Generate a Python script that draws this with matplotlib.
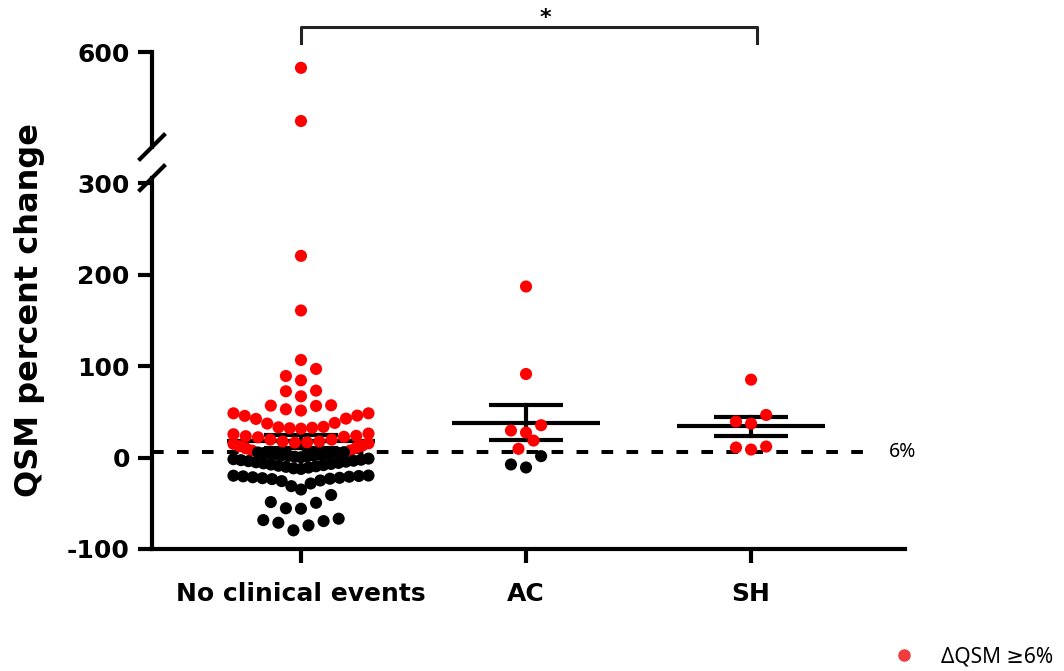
import numpy as np
import matplotlib
matplotlib.use("Agg")
import matplotlib.pyplot as plt
from matplotlib.lines import Line2D

plt.rcParams['font.family'] = ['DejaVu Sans']
plt.rcParams['axes.unicode_minus'] = False

# QSM percent change per patient
groups = ["No clinical events", "AC", "SH"]

no_events = [550, 382, 220.4, 160.7, 106.6, 96.8, 89.1, 84.4, 73.1, 72.4, 66.9,
             57.1, 56.7, 56.4, 52.7, 51.3,
             48.3, 48.3, 45.8, 45.5, 42.5, 42.2, 37.8, 37.1, 33.5, 33.0, 32.5, 32.0, 31.5,
             26.2, 25.4, 23.7, 23.3, 22.6, 22.1, 19.6, 19.6, 17.5, 17.5, 16.6, 16.3,
             15.5, 14.9, 13.1, 12.3, 10.6, 10.1, 7.6, 7.6,
             5.8, 5.5, 5.2, 4.9, 4.6, 4.3, 3.9, 3.6, 3.1, 2.8, 2.3, 1.9, 1.2, 0.8, 0.3,
             -1.2, -1.8, -2.4, -2.9, -3.5, -4.0, -4.6, -5.2, -5.9, -6.4, -7.0, -7.7,
             -8.3, -9.0, -9.6, -10.2, -11.0, -11.8, -12.5,
             -19.7, -19.9, -20.2, -20.6, -21.0, -21.6, -22.2, -22.6, -23.2, -23.6,
             -25.1, -25.8, -28.4, -31.3, -35.0,
             -41.0, -48.7, -49.5, -55.5, -56.0,
             -66.9, -68.4, -69.5, -71.3, -74.2, -79.6]
ac = [186.9, 91.3, 35.3, 29.5, 27.3, 18.5, 9.5, 1.5, -7.6, -10.9]
sh = [85.1, 46.5, 39.3, 37.1, 12.0, 10.9, 8.7]

threshold = 6      # % change cut-off
sig_text = "*"     # NCE vs SH

# row boundaries used to stack the dots (data units)
row_edges = [
    [-90, -62, -38, -16, 0, 16, 30, 50, 62, 80, 100, 130, 190, 300, 450, 700],
    [-20, 5, 24, 60, 140, 250],
    [0, 25, 60, 120],
]

RED = '#ff0000'
SANS = ['Noto Sans', 'DejaVu Sans']


def swarm_x(values, edges, center, step=0.067, half=0.30):
    # prism-like scatter: lowest value of a row in the middle, then out left/right
    values = np.asarray(values, float)
    xs = np.full(len(values), float(center))
    rows = np.digitize(values, edges)
    for r in np.unique(rows):
        idx = np.where(rows == r)[0]
        idx = idx[np.argsort(values[idx], kind='stable')]
        n = len(idx)
        s = min(step, 2 * half / max(n - 1, 1))
        if n % 2:
            offs = [0]
            k = 1
            while len(offs) < n:
                offs += [-k, k]
                k += 1
        else:
            offs = []
            k = 0.5
            while len(offs) < n:
                offs += [-k, k]
                k += 1
        xs[idx] = center + np.array(offs[:n]) * s
    return xs


fig = plt.figure(figsize=(10.64, 6.71), dpi=100)
W, H = 1064, 671
ax = fig.add_axes([152 / W, 1 - 549 / H, (905 - 152) / W, (549 - 178) / H])
ax_top = fig.add_axes([152 / W, 1 - 147 / H, (905 - 152) / W, (147 - 52) / H])

xlim = (-0.662, 2.684)
for a in (ax, ax_top):
    a.set_xlim(*xlim)
    for side in ('top', 'right'):
        a.spines[side].set_visible(False)
    a.spines['left'].set_linewidth(3)
    a.patch.set_alpha(0)
ax.spines['bottom'].set_linewidth(3)
ax_top.spines['bottom'].set_visible(False)

ax.set_ylim(-100, 305.5)
ax_top.set_ylim(300, 600)

# threshold line
ax.plot([xlim[0], 2.55], [threshold, threshold], color='k', lw=2.9,
        dashes=(2.9, 3.3), zorder=1)
ax.text(2.612, threshold, f"{threshold}%", va='center', ha='left', fontsize=14,
        family=SANS)

data = [no_events, ac, sh]
for i, vals in enumerate(data):
    vals = np.asarray(vals, float)
    xs = swarm_x(vals, row_edges[i], i)
    cols = np.where(vals >= threshold, RED, 'k')
    for a in (ax, ax_top):
        a.scatter(xs, vals, s=76, c=cols, linewidths=0, zorder=3)
    m = vals.mean()
    sem = vals.std(ddof=1) / np.sqrt(len(vals))
    ax.plot([i - 0.33, i + 0.33], [m, m], color='k', lw=3, solid_capstyle='butt', zorder=2)
    for y in (m - sem, m + sem):
        ax.plot([i - 0.165, i + 0.165], [y, y], color='k', lw=3, solid_capstyle='butt', zorder=2)
    ax.plot([i, i], [m - sem, m + sem], color='k', lw=3, zorder=2)

ax.set_yticks([-100, 0, 100, 200, 300])
ax_top.set_yticks([600])
ax.set_xticks(range(len(groups)))
ax.set_xticklabels(groups)
ax_top.set_xticks([])
ax.tick_params(axis='y', length=10, width=3, labelsize=18, pad=6)
ax_top.tick_params(axis='y', length=10, width=3, labelsize=18, pad=6)
ax.tick_params(axis='x', length=10, width=3, labelsize=18, pad=14)
for lab in ax.get_xticklabels() + ax.get_yticklabels() + ax_top.get_yticklabels():
    lab.set_fontweight('bold')

fig.text(30 / W, 1 - 310 / H, "QSM percent change", rotation=90, ha='center',
         va='center', fontsize=23, fontweight='bold')

# axis break marks
def break_mark(a, yfrac):
    x0, y0 = fig.transFigure.inverted().transform(a.transAxes.transform((0, yfrac)))
    dx, dy = 12 / W, 12 / H
    fig.add_artist(Line2D([x0 - dx, x0 + dx], [y0 - dy, y0 + dy],
                          transform=fig.transFigure, color='k', lw=3))

break_mark(ax_top, 0)
break_mark(ax, 1)

# significance bracket
y_top, y_leg = 679, 628
ax_top.plot([0, 0, 2.025, 2.025], [y_leg, y_top, y_top, y_leg], color='#222222',
            lw=2.2, clip_on=False)
ax_top.text(1.085, y_top - 2, sig_text, ha='center', va='bottom', fontsize=16,
            fontweight='bold')

fig.legend(handles=[Line2D([], [], marker='o', ls='none', color='#f03c3c', markersize=8)],
           labels=[f"\u0394QSM \u2265{threshold}%"], loc='center right',
           bbox_to_anchor=(1.0, 1 - 657 / H), frameon=False, borderaxespad=0.1,
           handletextpad=0.8, prop={'family': SANS, 'size': 15})

fig.savefig("out.png", dpi=100)
